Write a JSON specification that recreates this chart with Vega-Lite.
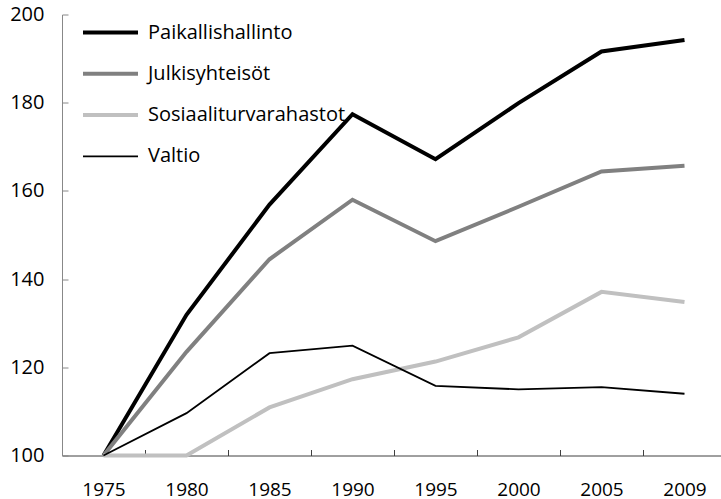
{
  "$schema": "https://vega.github.io/schema/vega-lite/v6.json",
  "autosize": {"type": "none"},
  "width": 659,
  "height": 441,
  "padding": {"left": 62, "top": 14.5, "right": 0, "bottom": 43.5},
  "background": "white",
  "config": {
    "font": "Open Sans",
    "view": {"stroke": null}
  },
  "data": {
    "values": [
      {"year": "1975", "series": "Paikallishallinto", "value": 100},
      {"year": "1980", "series": "Paikallishallinto", "value": 131.9},
      {"year": "1985", "series": "Paikallishallinto", "value": 156.9},
      {"year": "1990", "series": "Paikallishallinto", "value": 177.4},
      {"year": "1995", "series": "Paikallishallinto", "value": 167.2},
      {"year": "2000", "series": "Paikallishallinto", "value": 179.9},
      {"year": "2005", "series": "Paikallishallinto", "value": 191.6},
      {"year": "2009", "series": "Paikallishallinto", "value": 194.2},
      {"year": "1975", "series": "Julkisyhteisöt", "value": 100},
      {"year": "1980", "series": "Julkisyhteisöt", "value": 123.5},
      {"year": "1985", "series": "Julkisyhteisöt", "value": 144.5},
      {"year": "1990", "series": "Julkisyhteisöt", "value": 158.0},
      {"year": "1995", "series": "Julkisyhteisöt", "value": 148.6},
      {"year": "2000", "series": "Julkisyhteisöt", "value": 156.4},
      {"year": "2005", "series": "Julkisyhteisöt", "value": 164.4},
      {"year": "2009", "series": "Julkisyhteisöt", "value": 165.7},
      {"year": "1975", "series": "Sosiaaliturvarahastot", "value": 100},
      {"year": "1980", "series": "Sosiaaliturvarahastot", "value": 100},
      {"year": "1985", "series": "Sosiaaliturvarahastot", "value": 110.9},
      {"year": "1990", "series": "Sosiaaliturvarahastot", "value": 117.3},
      {"year": "1995", "series": "Sosiaaliturvarahastot", "value": 121.3},
      {"year": "2000", "series": "Sosiaaliturvarahastot", "value": 126.8},
      {"year": "2005", "series": "Sosiaaliturvarahastot", "value": 137.1},
      {"year": "2009", "series": "Sosiaaliturvarahastot", "value": 134.8},
      {"year": "1975", "series": "Valtio", "value": 100},
      {"year": "1980", "series": "Valtio", "value": 109.6},
      {"year": "1985", "series": "Valtio", "value": 123.2},
      {"year": "1990", "series": "Valtio", "value": 124.9},
      {"year": "1995", "series": "Valtio", "value": 115.8},
      {"year": "2000", "series": "Valtio", "value": 115.0},
      {"year": "2005", "series": "Valtio", "value": 115.5},
      {"year": "2009", "series": "Valtio", "value": 114.0}
    ]
  },
  "mark": {"type": "line", "strokeJoin": "miter"},
  "encoding": {
    "x": {
      "field": "year",
      "type": "nominal",
      "sort": null,
      "scale": {"type": "band", "paddingInner": 0, "paddingOuter": 0, "range": [0, 664]},
      "axis": {
        "title": null,
        "labelAngle": 0,
        "tickBand": "extent",
        "tickSize": -6,
        "tickColor": "#404040",
        "domainColor": "#404040",
        "domainWidth": 1,
        "labelFontSize": 19,
        "labelColor": "black",
        "labelPadding": 30.5
      }
    },
    "y": {
      "field": "value",
      "type": "quantitative",
      "scale": {"domain": [100, 200], "nice": false, "zero": false},
      "axis": {
        "title": null,
        "values": [100, 120, 140, 160, 180, 200],
        "grid": false,
        "tickSize": -6,
        "tickColor": "#888888",
        "domainColor": "#888888",
        "labelFontSize": 20,
        "labelColor": "black",
        "labelPadding": 24
      }
    },
    "color": {
      "field": "series",
      "type": "nominal",
      "scale": {
        "domain": ["Paikallishallinto", "Julkisyhteisöt", "Sosiaaliturvarahastot", "Valtio"],
        "range": ["#000000", "#808080", "#c0c0c0", "#000000"]
      },
      "legend": {
        "title": null,
        "orient": "none",
        "legendX": 19,
        "legendY": 8,
        "symbolType": "stroke",
        "symbolSize": 3025,
        "clipHeight": 20,
        "labelFontSize": 20,
        "labelLimit": 400,
        "labelColor": "black",
        "labelOffset": 8,
        "rowPadding": 21.3
      }
    },
    "strokeWidth": {
      "field": "series",
      "type": "nominal",
      "scale": {
        "type": "ordinal",
        "domain": ["Paikallishallinto", "Julkisyhteisöt", "Sosiaaliturvarahastot", "Valtio"],
        "range": [4, 4, 4, 1.8]
      },
      "legend": {
        "title": null,
        "orient": "none",
        "legendX": 19,
        "legendY": 8,
        "symbolType": "stroke",
        "symbolSize": 3025,
        "clipHeight": 20,
        "labelFontSize": 20,
        "labelLimit": 400,
        "labelColor": "black",
        "labelOffset": 8,
        "rowPadding": 21.3
      }
    }
  }
}
